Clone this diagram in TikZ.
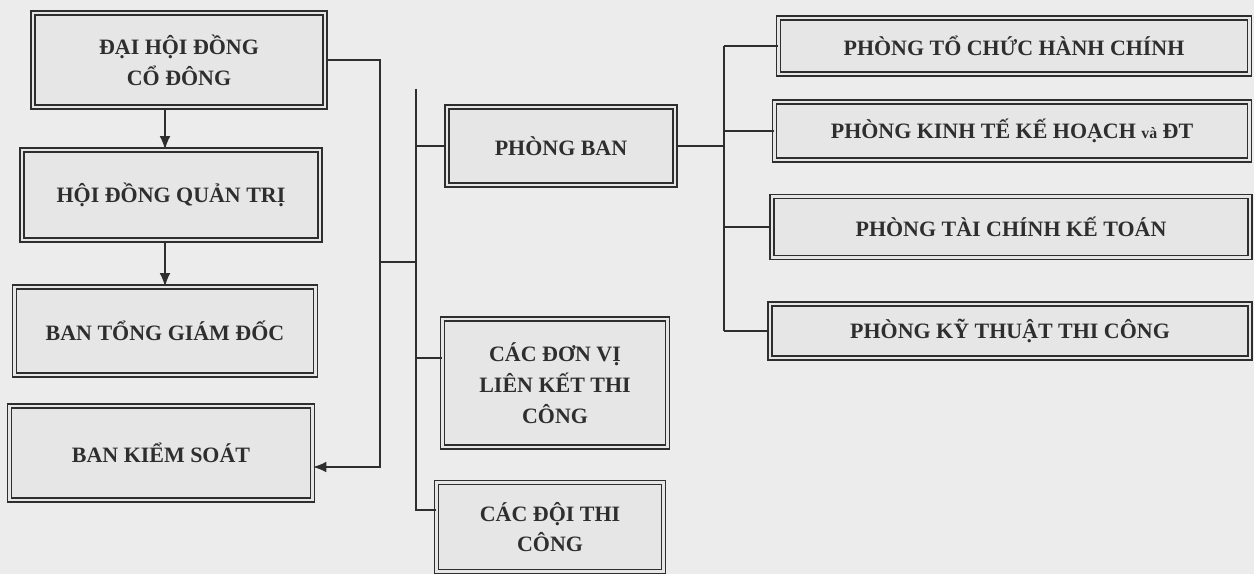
\documentclass[tikz,border=0pt]{standalone}
\usepackage{fontspec}
\setmainfont{Liberation Serif}
\usetikzlibrary{positioning, arrows.meta}
\definecolor{paper}{HTML}{ECECEC}
\definecolor{boxgray}{HTML}{E6E6E6}
\definecolor{ink}{HTML}{2E2E2E}
\tikzset{
  box/.style={draw=ink, fill=boxgray, double=boxgray, double distance=1.4pt,
    line width=0.9pt, align=center, inner sep=2pt, text=ink,
    font=\bfseries\fontsize{12.5}{17.5}\selectfont},
  link/.style={draw=ink, line width=0.6pt},
}
\begin{document}
\begin{tikzpicture}[>={Latex[length=2.6mm, width=2.1mm]}, x=0.02cm, y=-0.02cm]
        \fill[paper] (0,0) rectangle (1254,574);
        \useasboundingbox (0,0) rectangle (1254,574);

        % Nodes
        \node[box, minimum width=5.84cm, minimum height=1.88cm] (dhd) at (179,60) {ĐẠI HỘI ĐỒNG\\CỔ ĐÔNG};
        \node[box, minimum width=5.96cm, minimum height=1.8cm] (hdqt) at (171,195) {HỘI ĐỒNG QUẢN TRỊ};
        \node[box, minimum width=6.02cm, minimum height=1.76cm] (btgd) at (165,331) {BAN TỔNG GIÁM ĐỐC};
        \node[box, minimum width=6.06cm, minimum height=1.88cm] (bks) at (161,453) {BAN KIỂM SOÁT};

        \node[box, minimum width=4.56cm, minimum height=1.56cm] (pb) at (561,146) {PHÒNG BAN};
        \node[box, minimum width=4.5cm, minimum height=2.56cm] (dvlk) at (555,383) {CÁC ĐƠN VỊ\\LIÊN KẾT THI\\CÔNG};
        \node[box, minimum width=4.54cm, minimum height=1.78cm] (doi) at (550,527) {CÁC ĐỘI THI\\CÔNG};

        \node[box, minimum width=9.42cm, minimum height=1.12cm] (tchc) at (1014,46) {PHÒNG TỔ CHỨC HÀNH CHÍNH};
        \node[box, minimum width=9.5cm, minimum height=1.16cm] (ktkh) at (1012,131) {PHÒNG KINH TẾ KẾ HOẠCH {\fontsize{9}{10}\selectfont và} ĐT};
        \node[box, minimum width=9.56cm, minimum height=1.22cm] (tckt) at (1011,227) {PHÒNG TÀI CHÍNH KẾ TOÁN};
        \node[box, minimum width=9.6cm, minimum height=1.08cm] (kttc) at (1010,331) {PHÒNG KỸ THUẬT THI CÔNG};

        % Junctions
        \coordinate (ax) at (165,0);
        \coordinate (j1) at (380,467);
        \coordinate (j2) at (380,262);
        \coordinate (b2top) at (416,89);
        \coordinate (b2mid) at (416,358);
        \coordinate (b2bot) at (416,510);
        \coordinate (b3) at (724,0);

        % Arrows
        \draw[link, ->] (dhd.south -| ax) -- (hdqt.north -| ax);
        \draw[link, ->] (hdqt.south -| ax) -- (btgd.north -| ax);
        \draw[link, ->] (dhd.east) -- (dhd.east -| j1) -- (j1) -- (bks.east |- j1);

        % Lines
        \draw[link] (j2) -- (j2 -| b2top);
        \draw[link] (b2top) -- (b2bot) -- (b2bot -| doi.west);
        \draw[link] (b2top |- pb.west) -- (pb.west);
        \draw[link] (b2mid) -- (b2mid -| dvlk.west);
        \draw[link] (pb.east) -- (pb.east -| b3);
        \draw[link] (b3 |- tchc.west) -- (b3 |- kttc.west);
        \foreach \n in {tchc, ktkh, tckt, kttc}
          \draw[link] (b3 |- \n.west) -- (\n.west);
    \end{tikzpicture}
\end{document}
